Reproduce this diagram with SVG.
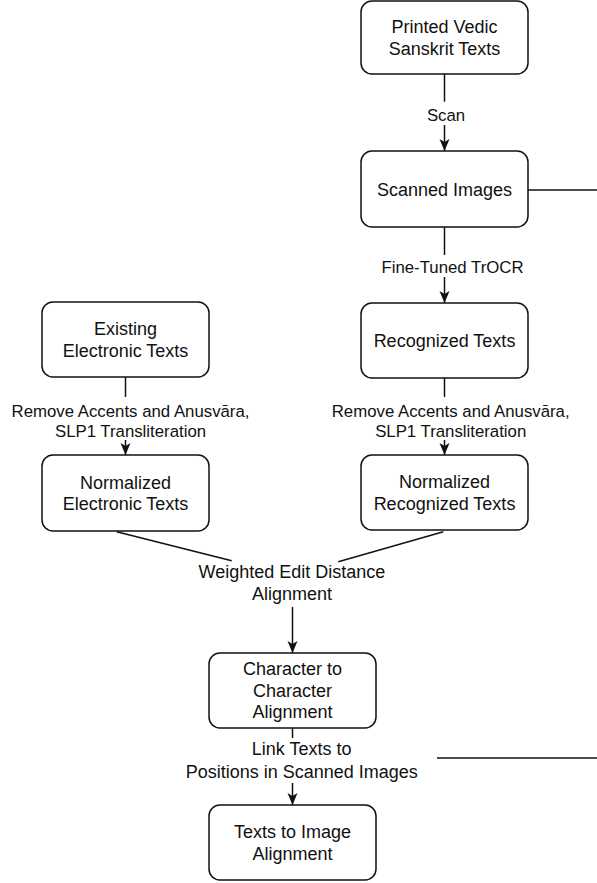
<svg xmlns="http://www.w3.org/2000/svg" width="597" height="883" viewBox="0 0 597 883">
<defs>
<style>
.box{fill:#fff;stroke:#111;stroke-width:1.5}
.nt{font-family:"Liberation Sans",Arial,sans-serif;font-size:18px;fill:#111;text-anchor:middle}
.el{font-family:"Liberation Sans",Arial,sans-serif;font-size:16.8px;fill:#111;text-anchor:middle}
.el18{font-family:"Liberation Sans",Arial,sans-serif;font-size:18px;fill:#111;text-anchor:middle}
.ln{fill:none;stroke:#111;stroke-width:1.5}
</style>
<marker id="arr" markerUnits="userSpaceOnUse" markerWidth="14" markerHeight="12" refX="12" refY="5" orient="auto">
<path d="M0,0 L12,5 L0,10 L3,5 Z" fill="#111"/>
</marker>
</defs>
<rect width="597" height="883" fill="#fff"/>
<g id="connectors">
<path class="ln" d="M444.5,74 V101.7"/>
<path class="ln" d="M444.5,125 V151" marker-end="url(#arr)"/>
<text class="el" x="446" y="120.7">Scan</text>
<path class="ln" d="M444.5,227 V255"/>
<path class="ln" d="M444.5,277 V303" marker-end="url(#arr)"/>
<text class="el" x="452.5" y="273.3">Fine-Tuned TrOCR</text>
<path class="ln" d="M444.5,378 V397"/>
<path class="ln" d="M444.5,440 V455" marker-end="url(#arr)"/>
<text class="el" x="450.7" y="416.7">Remove Accents and Anusvāra,</text>
<text class="el" x="450.7" y="436.5">SLP1 Transliteration</text>
<path class="ln" d="M125.5,377 V397"/>
<path class="ln" d="M125.5,440 V455" marker-end="url(#arr)"/>
<text class="el" x="130.5" y="416.7">Remove Accents and Anusvāra,</text>
<text class="el" x="130.5" y="436.5">SLP1 Transliteration</text>
<path class="ln" d="M116.7,531.7 L231.7,560.7"/>
<path class="ln" d="M443.3,531.7 L338.3,561.7"/>
<text class="el18" x="292" y="578.3">Weighted Edit Distance</text>
<text class="el18" x="292" y="600">Alignment</text>
<path class="ln" d="M292.5,607 V653" marker-end="url(#arr)"/>
<path class="ln" d="M292.5,728 V738"/>
<path class="ln" d="M292.5,783 V805" marker-end="url(#arr)"/>
<text class="el18" x="301.7" y="755">Link Texts to</text>
<text class="el18" x="301.7" y="778">Positions in Scanned Images</text>
<path class="ln" d="M528,190 H620 V758 H437"/>
</g>
<g id="n-printed">
<rect class="box" x="361" y="1" width="167" height="73" rx="11"/>
<text class="nt" x="444.5" y="33">Printed Vedic</text>
<text class="nt" x="444.5" y="54.6">Sanskrit Texts</text>
</g>
<g id="n-scanned">
<rect class="box" x="361" y="151" width="167" height="76" rx="11"/>
<text class="nt" x="444.5" y="195.5">Scanned Images</text>
</g>
<g id="n-recognized">
<rect class="box" x="361" y="303" width="167" height="75" rx="11"/>
<text class="nt" x="444.5" y="346.8">Recognized Texts</text>
</g>
<g id="n-normrec">
<rect class="box" x="361" y="455" width="167" height="75" rx="11"/>
<text class="nt" x="444.5" y="488">Normalized</text>
<text class="nt" x="444.5" y="509.6">Recognized Texts</text>
</g>
<g id="n-existing">
<rect class="box" x="42" y="302" width="167" height="75" rx="11"/>
<text class="nt" x="125.5" y="335">Existing</text>
<text class="nt" x="125.5" y="356.6">Electronic Texts</text>
</g>
<g id="n-normelec">
<rect class="box" x="42" y="455" width="167" height="76" rx="11"/>
<text class="nt" x="125.5" y="488.5">Normalized</text>
<text class="nt" x="125.5" y="510">Electronic Texts</text>
</g>
<g id="n-char">
<rect class="box" x="209" y="653" width="167" height="75" rx="11"/>
<text class="nt" x="292.5" y="675.2">Character to</text>
<text class="nt" x="292.5" y="696.8">Character</text>
<text class="nt" x="292.5" y="718.4">Alignment</text>
</g>
<g id="n-textimg">
<rect class="box" x="209" y="805" width="167" height="75" rx="11"/>
<text class="nt" x="292.5" y="838">Texts to Image</text>
<text class="nt" x="292.5" y="859.6">Alignment</text>
</g>
</svg>
